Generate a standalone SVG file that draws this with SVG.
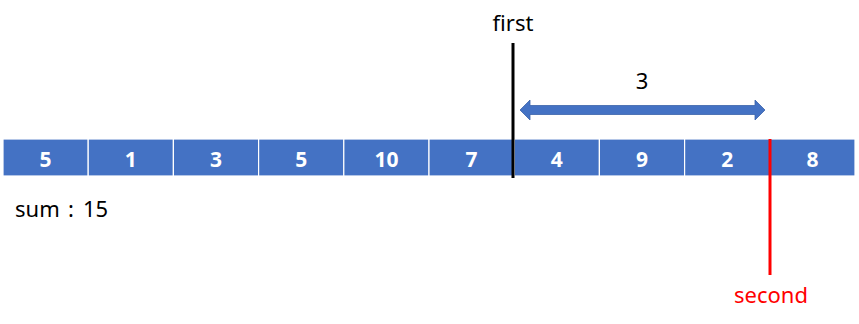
<svg xmlns="http://www.w3.org/2000/svg" width="859" height="324" viewBox="0 0 859 324">
<style>
.cell rect{fill:#4472C4;stroke:#ffffff;stroke-width:1.2}
.cell text{fill:#ffffff;font-family:"Noto Sans","Liberation Sans",sans-serif;font-weight:bold;font-size:21px;text-anchor:middle}
.lbl{font-family:"Noto Sans","Liberation Sans",sans-serif;font-size:22px}
</style>
<rect width="859" height="324" fill="#ffffff"/>
<g id="cell0" class="cell"><rect x="3" y="139" width="85.2" height="37"/><text x="45.6" y="167">5</text></g>
<g id="cell1" class="cell"><rect x="88.2" y="139" width="85.2" height="37"/><text x="130.8" y="167">1</text></g>
<g id="cell2" class="cell"><rect x="173.4" y="139" width="85.2" height="37"/><text x="216" y="167">3</text></g>
<g id="cell3" class="cell"><rect x="258.6" y="139" width="85.2" height="37"/><text x="301.2" y="167">5</text></g>
<g id="cell4" class="cell"><rect x="343.8" y="139" width="85.2" height="37"/><text x="386.4" y="167">10</text></g>
<g id="cell5" class="cell"><rect x="429" y="139" width="85.2" height="37"/><text x="471.6" y="167">7</text></g>
<g id="cell6" class="cell"><rect x="514.2" y="139" width="85.2" height="37"/><text x="556.8" y="167">4</text></g>
<g id="cell7" class="cell"><rect x="599.4" y="139" width="85.2" height="37"/><text x="642" y="167">9</text></g>
<g id="cell8" class="cell"><rect x="684.6" y="139" width="85.2" height="37"/><text x="727.2" y="167">2</text></g>
<g id="cell9" class="cell"><rect x="769.8" y="139" width="85.2" height="37"/><text x="812.4" y="167">8</text></g>
<g id="connectors">
<line x1="513" y1="43" x2="513" y2="178" stroke="#000000" stroke-width="3"/>
<line x1="770" y1="139" x2="770" y2="275" stroke="#FF0000" stroke-width="3"/>
<polygon points="520,110 530,100 530,105.5 755,105.5 755,100 765,110 755,120 755,114.5 530,114.5 530,120" fill="#4472C4" stroke="#3A62AA" stroke-width="0.8"/>
</g>
<g id="labels">
<text class="lbl" x="513" y="31" text-anchor="middle" fill="#000000">first</text>
<text class="lbl" x="642" y="89" text-anchor="middle" fill="#000000">3</text>
<text class="lbl" y="217" fill="#000000"><tspan x="15">sum</tspan><tspan x="68">:</tspan><tspan x="83">15</tspan></text>
<text class="lbl" x="771" y="303" text-anchor="middle" fill="#FF0000">second</text>
</g>
</svg>
